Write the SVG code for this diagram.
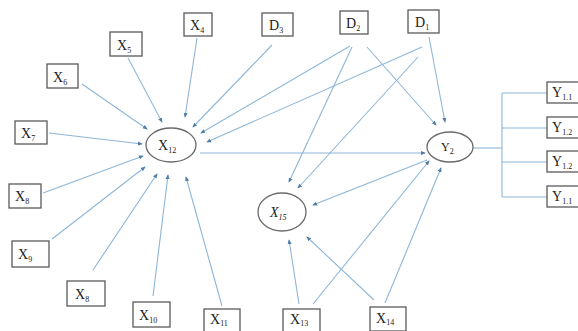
<svg xmlns="http://www.w3.org/2000/svg" width="578" height="331" viewBox="0 0 578 331">
<defs>
<marker id="ah" viewBox="0 0 6 6" refX="5" refY="3" markerWidth="4.5" markerHeight="4.5" orient="auto">
<path d="M0,0.5 L6,3 L0,5.5 z" fill="#4f7ea8"/>
</marker>
<style>
.bx{fill:#fff;stroke:#5a5a5a;stroke-width:1.3}
.el{fill:#fff;stroke:#6a6a6a;stroke-width:1.3}
.t{font-family:"Liberation Serif","Times New Roman",serif;font-size:14px;fill:#222}
.s{font-size:8px}
.ln{stroke:#8db6d8;stroke-width:1.1;fill:none}
.ar{marker-end:url(#ah)}
</style>
</defs>
<rect width="578" height="331" fill="#fff"/>
<g id="connectors">
<line class="ln ar" x1="197" y1="38" x2="185" y2="117"/>
<line class="ln ar" x1="128" y1="58" x2="162" y2="122"/>
<line class="ln ar" x1="82" y1="84" x2="147" y2="129"/>
<line class="ln ar" x1="49" y1="133" x2="142" y2="144"/>
<line class="ln ar" x1="43" y1="193" x2="143" y2="156"/>
<line class="ln ar" x1="52" y1="239" x2="145" y2="167"/>
<line class="ln ar" x1="93" y1="270" x2="157" y2="174"/>
<line class="ln ar" x1="153" y1="296" x2="168" y2="175"/>
<line class="ln ar" x1="222" y1="306" x2="186" y2="177"/>
<line class="ln ar" x1="272" y1="45" x2="193" y2="127"/>
<line class="ln ar" x1="350" y1="46" x2="201" y2="133"/>
<line class="ln ar" x1="422" y1="47" x2="207" y2="142"/>
<line class="ln ar" x1="352" y1="47" x2="289" y2="182"/>
<line class="ln ar" x1="418" y1="57" x2="298" y2="188"/>
<line class="ln ar" x1="367" y1="47" x2="436" y2="125"/>
<line class="ln ar" x1="429" y1="37" x2="445" y2="122"/>
<line class="ln ar" x1="200" y1="153" x2="425" y2="153"/>
<line class="ln ar" x1="427" y1="160" x2="313" y2="205"/>
<line class="ln ar" x1="299" y1="304" x2="289" y2="240"/>
<line class="ln ar" x1="313" y1="304" x2="429" y2="161"/>
<line class="ln ar" x1="385" y1="303" x2="441" y2="168"/>
<line class="ln ar" x1="374" y1="300" x2="307" y2="237"/>
<line class="ln" x1="473" y1="148" x2="502" y2="148"/>
<line class="ln" x1="502" y1="93" x2="502" y2="197"/>
<line class="ln" x1="502" y1="93" x2="547" y2="93"/>
<line class="ln" x1="502" y1="128" x2="547" y2="128"/>
<line class="ln" x1="502" y1="162" x2="547" y2="162"/>
<line class="ln" x1="502" y1="197" x2="547" y2="197"/>
</g>
<g id="X4"><rect class="bx" x="184" y="13" width="28" height="23"/><text class="t" x="190" y="30">X<tspan class="s" dy="3">4</tspan></text></g>
<g id="D3"><rect class="bx" x="262" y="13" width="31" height="23"/><text class="t" x="269" y="30">D<tspan class="s" dy="3">3</tspan></text></g>
<g id="D2"><rect class="bx" x="340" y="11" width="28" height="23"/><text class="t" x="346" y="28">D<tspan class="s" dy="3">2</tspan></text></g>
<g id="D1"><rect class="bx" x="408" y="10" width="31" height="23"/><text class="t" x="415" y="27">D<tspan class="s" dy="3">1</tspan></text></g>
<g id="X5"><rect class="bx" x="110" y="32" width="32" height="24"/><text class="t" x="117" y="50">X<tspan class="s" dy="3">5</tspan></text></g>
<g id="X6"><rect class="bx" x="47" y="64" width="31" height="24"/><text class="t" x="53" y="82">X<tspan class="s" dy="3">6</tspan></text></g>
<g id="X7"><rect class="bx" x="15" y="121" width="32" height="23"/><text class="t" x="21" y="138">X<tspan class="s" dy="3">7</tspan></text></g>
<g id="X8"><rect class="bx" x="9" y="184" width="32" height="24"/><text class="t" x="15" y="201">X<tspan class="s" dy="3">8</tspan></text></g>
<g id="X9"><rect class="bx" x="12" y="241" width="37" height="26"/><text class="t" x="18" y="259">X<tspan class="s" dy="3">9</tspan></text></g>
<g id="X8b"><rect class="bx" x="67" y="281" width="38" height="25"/><text class="t" x="75" y="299">X<tspan class="s" dy="3">8</tspan></text></g>
<g id="X10"><rect class="bx" x="133" y="302" width="37" height="25"/><text class="t" x="139" y="320">X<tspan class="s" dy="3">10</tspan></text></g>
<g id="X11"><rect class="bx" x="204" y="309" width="36" height="23"/><text class="t" x="210" y="324">X<tspan class="s" dy="2">11</tspan></text></g>
<g id="X13"><rect class="bx" x="283" y="309" width="37" height="23"/><text class="t" x="290" y="324">X<tspan class="s" dy="2">13</tspan></text></g>
<g id="X14"><rect class="bx" x="370" y="307" width="36" height="24"/><text class="t" x="376" y="323">X<tspan class="s" dy="2">14</tspan></text></g>
<g id="X12"><ellipse class="el" cx="171" cy="145" rx="25" ry="17"/><text class="t" x="158" y="150">X<tspan class="s" dy="3">12</tspan></text></g>
<g id="Y2"><ellipse class="el" cx="450" cy="147" rx="23" ry="15"/><text class="t" x="441" y="151" style="font-size:12px">Y<tspan class="s" dy="3">2</tspan></text></g>
<g id="X15"><ellipse class="el" cx="282" cy="212" rx="24" ry="19"/><text class="t" x="270" y="217" font-style="italic">X<tspan class="s" dy="3">15</tspan></text></g>
<g id="Y11a"><rect class="bx" x="547" y="82" width="35" height="21"/><text class="t" x="552" y="97">Y<tspan class="s" dy="3">1.1</tspan></text></g>
<g id="Y12a"><rect class="bx" x="547" y="117" width="35" height="21"/><text class="t" x="552" y="132">Y<tspan class="s" dy="3">1.2</tspan></text></g>
<g id="Y12b"><rect class="bx" x="547" y="151" width="35" height="21"/><text class="t" x="552" y="166">Y<tspan class="s" dy="3">1.2</tspan></text></g>
<g id="Y11b"><rect class="bx" x="547" y="186" width="35" height="21"/><text class="t" x="552" y="201">Y<tspan class="s" dy="3">1.1</tspan></text></g>
</svg>
